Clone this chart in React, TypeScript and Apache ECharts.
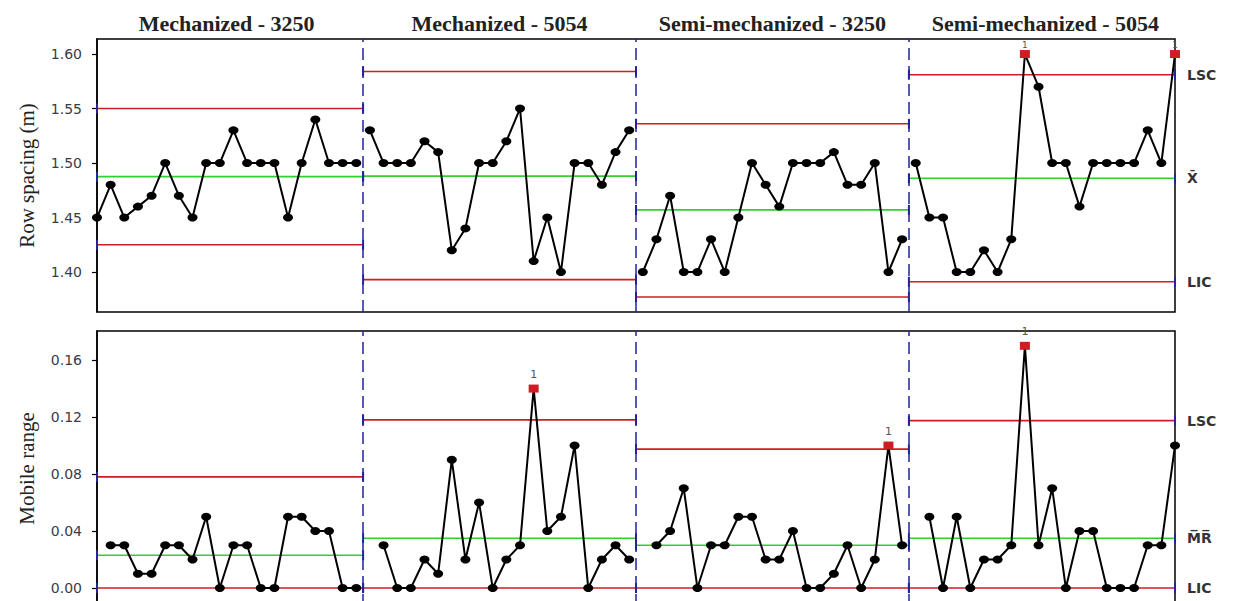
import React, { useEffect, useRef } from 'react';
import * as echarts from 'echarts';

const stageNames = ['Mechanized - 3250', 'Mechanized - 5054', 'Semi-mechanized - 3250', 'Semi-mechanized - 5054'];

const rowSpacingMech3250 = [1.45, 1.48, 1.45, 1.46, 1.47, 1.50, 1.47, 1.45, 1.50, 1.50, 1.53, 1.50, 1.50, 1.50, 1.45, 1.50, 1.54, 1.50, 1.50, 1.50];
const rowSpacingMech5054 = [1.53, 1.50, 1.50, 1.50, 1.52, 1.51, 1.42, 1.44, 1.50, 1.50, 1.52, 1.55, 1.41, 1.45, 1.40, 1.50, 1.50, 1.48, 1.51, 1.53];
const rowSpacingSemi3250 = [1.40, 1.43, 1.47, 1.40, 1.40, 1.43, 1.40, 1.45, 1.50, 1.48, 1.46, 1.50, 1.50, 1.50, 1.51, 1.48, 1.48, 1.50, 1.40, 1.43];
const rowSpacingSemi5054 = [1.50, 1.45, 1.45, 1.40, 1.40, 1.42, 1.40, 1.43, 1.60, 1.57, 1.50, 1.50, 1.46, 1.50, 1.50, 1.50, 1.50, 1.53, 1.50, 1.60];

const movingRangeMech3250 = [0.03, 0.03, 0.01, 0.01, 0.03, 0.03, 0.02, 0.05, 0.00, 0.03, 0.03, 0.00, 0.00, 0.05, 0.05, 0.04, 0.04, 0.00, 0.00];
const movingRangeMech5054 = [0.03, 0.00, 0.00, 0.02, 0.01, 0.09, 0.02, 0.06, 0.00, 0.02, 0.03, 0.14, 0.04, 0.05, 0.10, 0.00, 0.02, 0.03, 0.02];
const movingRangeSemi3250 = [0.03, 0.04, 0.07, 0.00, 0.03, 0.03, 0.05, 0.05, 0.02, 0.02, 0.04, 0.00, 0.00, 0.01, 0.03, 0.00, 0.02, 0.10, 0.03];
const movingRangeSemi5054 = [0.05, 0.00, 0.05, 0.00, 0.02, 0.02, 0.03, 0.17, 0.03, 0.07, 0.00, 0.04, 0.04, 0.00, 0.00, 0.00, 0.03, 0.03, 0.10];

const rowUCL = [1.550, 1.584, 1.536, 1.581];
const rowMean = [1.4875, 1.488, 1.457, 1.486];
const rowLCL = [1.425, 1.393, 1.377, 1.391];
const mrUCL = [0.078, 0.118, 0.0975, 0.1175];
const mrMean = [0.023, 0.035, 0.030, 0.035];
const mrLCL = [0, 0, 0, 0];

const rowTicks = [1.40, 1.45, 1.50, 1.55, 1.60];
const mrTicks = [0, 0.04, 0.08, 0.12, 0.16];
const limitLabelsRow = ['LSC', 'X\u0304', 'LIC'];
const limitLabelsMR = ['LSC', 'M\u0305R\u0305', 'LIC'];

const STAGE = 20;
const LAST = STAGE * 4 - 1;
const RED = '#d01c24';
const GREEN = '#2fd02f';
const NAVY = '#23239a';

const rowStages = [rowSpacingMech3250, rowSpacingMech5054, rowSpacingSemi3250, rowSpacingSemi5054];
const mrStages = [movingRangeMech3250, movingRangeMech5054, movingRangeSemi3250, movingRangeSemi5054];

function pointSeries(axis: number, values: number[], offset: number, ucl: number, lcl: number, withDividers: boolean) {
  const labelDistance = axis === 0 ? 1 : 5;
  const labelSize = axis === 0 ? 9 : 11;
  return {
    type: 'line',
    xAxisIndex: axis === 0 ? 0 : 2,
    yAxisIndex: axis,
    z: 5,
    clip: true,
    symbol: 'circle',
    symbolSize: [10, 8],
    lineStyle: { color: '#000', width: 2 },
    itemStyle: { color: '#000' },
    label: { show: false, color: '#555' },
    data: values.map((v, i) => {
      const out = v > ucl || v < lcl;
      return out
        ? {
            value: [offset + i, v],
            symbol: 'rect',
            symbolSize: [10, 8],
            itemStyle: { color: RED },
            label: { show: true, position: 'top', distance: labelDistance, formatter: '1', fontSize: labelSize, color: '#555', fontFamily: 'DejaVu Sans' },
          }
        : { value: [offset + i, v] };
    }),
    markLine: withDividers
      ? {
          silent: true,
          symbol: ['none', 'none'],
          label: { show: false },
          lineStyle: { color: NAVY, type: [12, 6], width: 1.5 },
          data: [1, 2, 3].map((k) => ({ xAxis: k * STAGE - 0.5 })),
        }
      : undefined,
  };
}

function limitSeries(axis: number, s: number, value: number, color: string, label: string | null) {
  const x0 = Math.max(0, s * STAGE - 0.5);
  const x1 = Math.min(LAST, s * STAGE + STAGE - 0.5);
  return {
    type: 'line',
    xAxisIndex: axis === 0 ? 0 : 2,
    yAxisIndex: axis,
    z: 2,
    symbol: 'rect',
    symbolSize: [2, 10],
    itemStyle: { color: NAVY },
    lineStyle: { color, width: 1.6 },
    data: [[x0, value], [x1, value]],
    endLabel: label
      ? { show: true, formatter: label, distance: 12, fontSize: 14, fontWeight: 'bold', color: '#333', fontFamily: 'DejaVu Sans' }
      : { show: false },
  };
}

export default function App() {
  const ref = useRef<HTMLDivElement>(null);
  useEffect(() => {
    if (!ref.current) return;
    const chart = echarts.init(ref.current, null, { renderer: 'svg' });
    const series: any[] = [];
    rowStages.forEach((vals, s) => {
      series.push(pointSeries(0, vals, s * STAGE, rowUCL[s], rowLCL[s], s === 0));
      series.push(limitSeries(0, s, rowUCL[s], RED, s === 3 ? limitLabelsRow[0] : null));
      series.push(limitSeries(0, s, rowMean[s], GREEN, s === 3 ? limitLabelsRow[1] : null));
      series.push(limitSeries(0, s, rowLCL[s], RED, s === 3 ? limitLabelsRow[2] : null));
    });
    mrStages.forEach((vals, s) => {
      series.push(pointSeries(1, vals, s * STAGE + 1, mrUCL[s], -1, s === 0));
      series.push(limitSeries(1, s, mrUCL[s], RED, s === 3 ? limitLabelsMR[0] : null));
      series.push(limitSeries(1, s, mrMean[s], GREEN, s === 3 ? limitLabelsMR[1] : null));
      series.push(limitSeries(1, s, mrLCL[s], RED, s === 3 ? limitLabelsMR[2] : null));
    });

    const hiddenX = (grid: number) => ({
      type: 'value', gridIndex: grid, min: 0, max: LAST,
      axisLine: { show: false }, axisTick: { show: false }, axisLabel: { show: false }, splitLine: { show: false },
    });
    const yAx = (grid: number, min: number, max: number, ticks: number[], name: string) => ({
      type: 'value', gridIndex: grid, min, max,
      name, nameLocation: 'middle', nameGap: 60,
      nameTextStyle: { fontFamily: 'Liberation Serif', fontSize: 21, color: '#222' },
      axisLine: { show: true, lineStyle: { color: '#000', width: 1.5 } },
      axisTick: { show: true, customValues: ticks, length: 5, lineStyle: { color: '#000', width: 1.2 } },
      axisLabel: { customValues: ticks, formatter: (v: number) => v.toFixed(2), margin: 15, fontSize: 14, color: '#3a3a4a', fontFamily: 'DejaVu Sans' },
      splitLine: { show: false },
    });

    chart.setOption({
      animation: false,
      backgroundColor: '#fff',
      grid: [
        { left: 97, right: 61, top: 39, height: 273, show: true, borderColor: '#000', borderWidth: 1.5, backgroundColor: 'transparent' },
        { left: 97, right: 61, top: 331, height: 275, show: true, borderColor: '#000', borderWidth: 1.5, backgroundColor: 'transparent' },
      ],
      xAxis: [
        hiddenX(0),
        {
          type: 'value', gridIndex: 0, position: 'top', min: 0, max: LAST,
          axisLine: { show: false }, axisTick: { show: false }, splitLine: { show: false },
          axisLabel: {
            customValues: stageNames.map((_, s) => s * STAGE + (STAGE - 1) / 2),
            formatter: (v: number) => stageNames[Math.round((v - (STAGE - 1) / 2) / STAGE)] || '',
            margin: 5, fontSize: 22, fontWeight: 'bold', color: '#222', fontFamily: 'Liberation Serif',
          },
        },
        hiddenX(1),
      ],
      yAxis: [
        yAx(0, 1.3633, 1.6138, rowTicks, 'Row spacing (m)'),
        yAx(1, -0.0126, 0.1804, mrTicks, 'Mobile range'),
      ],
      series,
    });
    return () => chart.dispose();
  }, []);
  return <div ref={ref} style={{ position: 'fixed', left: 0, top: 0, width: 1236, height: 620, background: '#fff' }} />;
}
